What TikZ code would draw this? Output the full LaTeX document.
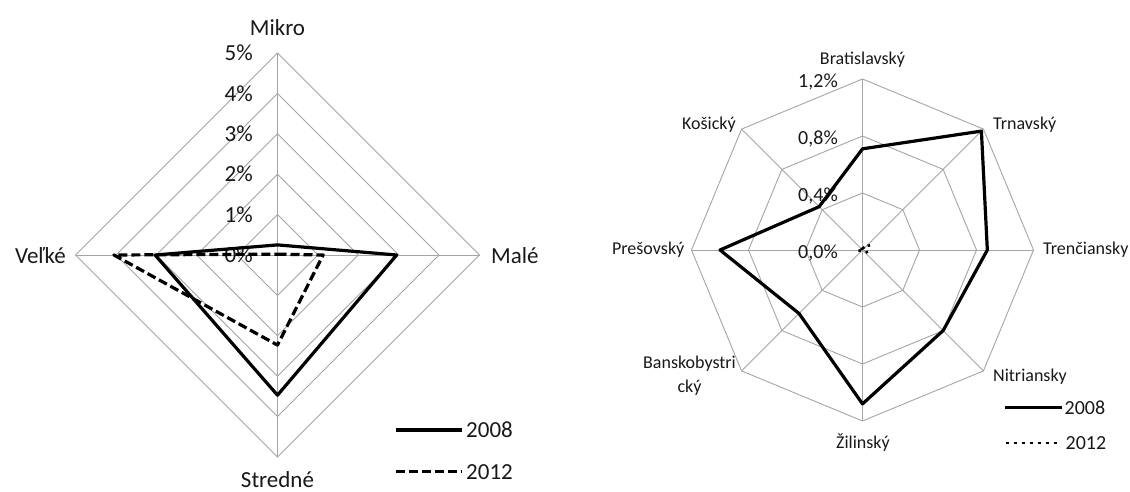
\documentclass[tikz,border=0pt]{standalone}
\usepackage{fontspec}
\setmainfont{Carlito}
\definecolor{gridc}{RGB}{165,165,165}
\definecolor{txt}{RGB}{25,25,25}
\begin{document}
\begin{tikzpicture}[x=1pt,y=1pt,
  grid/.style={draw=gridc, line width=0.9pt},
  sline/.style={draw=black, line width=3.2pt, line join=round},
  dline/.style={draw=black, line width=3.2pt, dash pattern=on 9pt off 4pt, line join=round},
  oline/.style={draw=black, line width=2.5pt, dash pattern=on 2.5pt off 5.5pt},
  lbig/.style={text=txt, inner sep=0pt, font=\fontsize{23}{26}\selectfont},
  lsmall/.style={text=txt, inner sep=0pt, font=\fontsize{18}{24}\selectfont},
  ltick/.style={text=txt, inner sep=0pt, font=\fontsize{20}{24}\selectfont}]
\useasboundingbox[fill=white] (0,0) rectangle (1130,491);
% ---------- left chart ----------
\begin{scope}[shift={(277.5,236)}]
  \def\u{40.4}
  \foreach \r in {1,...,5}
    \draw[grid] (90:{\r*\u}) -- (0:{\r*\u}) -- (270:{\r*\u}) -- (180:{\r*\u}) -- cycle;
  \draw[grid] (90:{5*\u}) -- (270:{5*\u});
  \draw[grid] (0:{5*\u}) -- (180:{5*\u});
  \foreach \r in {0,...,5}
    \node[lbig, anchor=east] (lt\r) at (-24.5,{\r*\u}) {\r\%};
  \draw[sline] (90:{0.25*\u}) -- (0:{2.95*\u}) -- (270:{3.47*\u}) -- (180:{3.03*\u}) -- cycle;
  \draw[dline] (90:{0.02*\u}) -- (0:{1.13*\u}) -- (270:{2.23*\u}) -- (180:{4.05*\u}) -- cycle;
  \node[lbig] (mikro) at (0,227.7) {Mikro};
  \node[lbig, anchor=west] (male) at (213.5,-1) {Malé};
  \node[lbig, anchor=base] (stredne) at (0,-232) {Stredné};
  \node[lbig, anchor=east] (velke) at (-211.5,-1) {Veľké};
  % legend
  \coordinate (la1) at (118.5,-175);
  \coordinate (la2) at (184.2,-175);
  \draw[sline] (la1) -- (la2);
  \node[lbig, anchor=west] (l2008) at (188.5,-175) {2008};
  \coordinate (lb1) at (118.5,-216.7);
  \coordinate (lb2) at (184.2,-216.7);
  \draw[dline] (lb1) -- (lb2);
  \node[lbig, anchor=west] (l2012) at (188.5,-216.7) {2012};
\end{scope}
% ---------- right chart ----------
\begin{scope}[shift={(862.5,241)}]
  \def\R{171}
  \def\v{142.5}
  \foreach \k in {1,2,3}
    \draw[grid] (90:{\k*\R/3}) -- (45:{\k*\R/3}) -- (0:{\k*\R/3}) -- (-45:{\k*\R/3})
      -- (-90:{\k*\R/3}) -- (-135:{\k*\R/3}) -- (180:{\k*\R/3}) -- (135:{\k*\R/3}) -- cycle;
  \foreach \a in {90,45,0,-45,-90,-135,180,135}
    \draw[grid] (0,0) -- (\a:\R);
  \node[ltick, anchor=east] (rt0) at (-24.5,-2.5) {0,0\%};
  \node[ltick, anchor=east] (rt1) at (-24.5,{\R/3-2.5}) {0,4\%};
  \node[ltick, anchor=east] (rt2) at (-24.5,{2*\R/3-2.5}) {0,8\%};
  \node[ltick, anchor=east] (rt3) at (-24.5,{\R-2.5}) {1,2\%};
  \draw[sline] (90:{0.71*\v}) -- (45:{1.18*\v}) -- (0:{0.876*\v}) -- (-45:{0.80*\v})
    -- (-90:{1.08*\v}) -- (-135:{0.63*\v}) -- (180:{1.0*\v}) -- (135:{0.43*\v}) -- cycle;
  \draw[oline] (90:{0.01*\v}) -- (45:{0.06*\v}) -- (0:{0.05*\v}) -- (-45:{0.03*\v})
    -- (-90:{0.01*\v}) -- (-135:{0.01*\v}) -- (180:{0.04*\v}) -- (135:{0.01*\v}) -- cycle;
  \node[lsmall] (brat) at (0,190) {Bratislavský};
  \node[lsmall, anchor=west] (trnav) at (130.5,125) {Trnavský};
  \node[lsmall, anchor=west] (tren) at (180.5,0) {Trenčiansky};
  \node[lsmall, anchor=west] (nitr) at (130.5,-126.7) {Nitriansky};
  \node[lsmall] (zil) at (0.5,-193) {Žilinský};
  \node[lsmall, anchor=east, align=center] (bb) at (-126.5,-125.5) {Banskobystri\\cký};
  \node[lsmall, anchor=east] (pres) at (-178,0) {Prešovský};
  \node[lsmall, anchor=east] (kos) at (-126.5,125) {Košický};
  % legend
  \coordinate (ra1) at (142.5,-157.3);
  \coordinate (ra2) at (199.2,-157.3);
  \draw[sline] (ra1) -- (ra2);
  \node[ltick, anchor=west] (r2008) at (202,-157.3) {2008};
  \coordinate (rb1) at (143.5,-193);
  \coordinate (rb2) at (194.2,-193);
  \draw[oline] (rb1) -- (rb2);
  \node[ltick, anchor=west] (r2012) at (203,-193) {2012};
\end{scope}
\end{tikzpicture}
\end{document}
